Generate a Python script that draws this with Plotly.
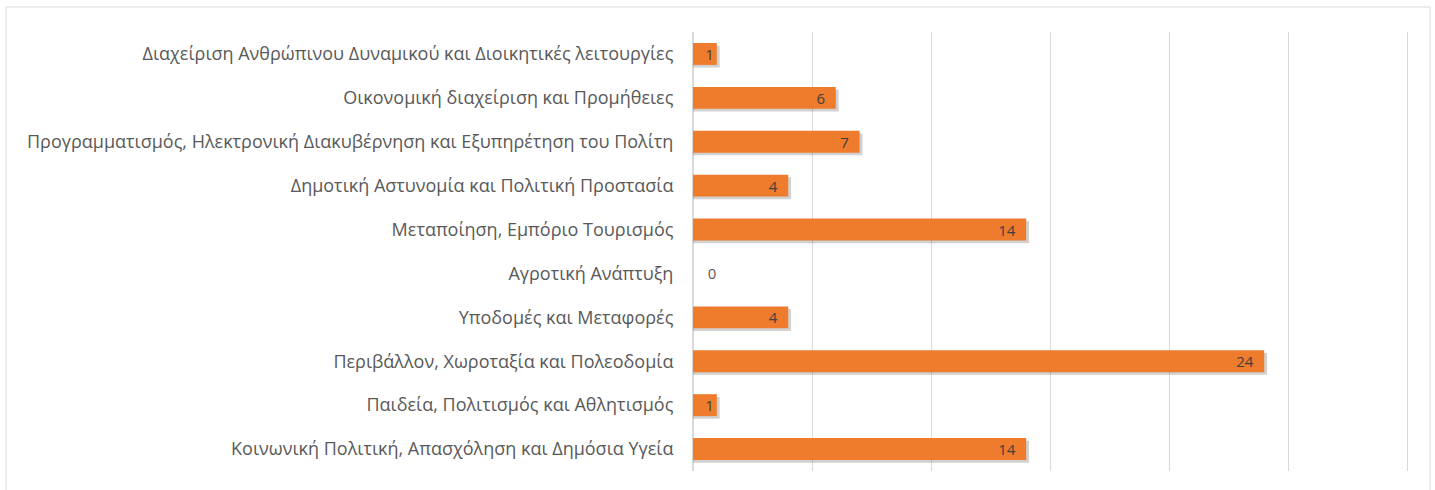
import plotly.graph_objects as go

# Categories listed top to bottom
categories = [
    "Διαχείριση Ανθρώπινου Δυναμικού και Διοικητικές λειτουργίες",
    "Οικονομική διαχείριση και Προμήθειες",
    "Προγραμματισμός, Ηλεκτρονική Διακυβέρνηση και Εξυπηρέτηση του Πολίτη",
    "Δημοτική Αστυνομία και Πολιτική Προστασία",
    "Μεταποίηση, Εμπόριο Τουρισμός",
    "Αγροτική Ανάπτυξη",
    "Υποδομές και Μεταφορές",
    "Περιβάλλον, Χωροταξία και Πολεοδομία",
    "Παιδεία, Πολιτισμός και Αθλητισμός",
    "Κοινωνική Πολιτική, Απασχόληση και Δημόσια Υγεία",
]
values = [1, 6, 7, 4, 14, 0, 4, 24, 1, 14]

x_max = 30
bar_width = 0.5
shadow_dx = 0.12  # horizontal spill of the drop shadow, in axis units

label_font = "Open Sans, sans-serif"


def bar_label(v):
    # pad labels away from the bar end / axis line
    if v == 0:
        return "   0"
    if v == 1:
        return "1"
    return f"{v}  "


fig = go.Figure()

# soft drop shadow behind each bar
fig.add_trace(go.Bar(
    y=categories,
    x=[v + shadow_dx if v > 0 else 0 for v in values],
    orientation="h",
    width=bar_width,
    offset=-bar_width / 2 + 0.06,
    marker=dict(color="rgba(90,90,90,0.28)", line=dict(width=0)),
    hoverinfo="skip",
    showlegend=False,
))

# main bars
fig.add_trace(go.Bar(
    y=categories,
    x=values,
    orientation="h",
    width=bar_width,
    offset=-bar_width / 2,
    marker=dict(color="#EF7B2C", line=dict(width=0)),
    text=[bar_label(v) for v in values],
    textposition=["inside" if v > 0 else "outside" for v in values],
    insidetextanchor="end",
    textangle=0,
    constraintext="none",
    textfont=dict(family=label_font, size=15, color="#404040"),
    outsidetextfont=dict(family=label_font, size=15, color="#595959"),
    cliponaxis=False,
    showlegend=False,
))

fig.update_layout(
    width=1435,
    height=490,
    barmode="overlay",
    paper_bgcolor="white",
    plot_bgcolor="white",
    margin=dict(l=693, r=28, t=32, b=19),
    font=dict(family=label_font, size=18, color="#595959"),
    xaxis=dict(
        range=[0, x_max],
        dtick=5,
        showticklabels=False,
        showgrid=True,
        gridcolor="#D9D9D9",
        gridwidth=1,
        zeroline=True,
        zerolinecolor="#D9D9D9",
        zerolinewidth=1,
        fixedrange=True,
    ),
    yaxis=dict(
        autorange="reversed",
        showgrid=False,
        ticks="",
        showline=True,
        mirror=True,
        linecolor="#D9D9D9",
        linewidth=1,
        ticklabelstandoff=15,
        tickfont=dict(family=label_font, size=18, color="#595959"),
        fixedrange=True,
    ),
    shapes=[
        # outer chart frame
        dict(
            type="rect", xref="paper", yref="paper",
            x0=(6 - 693) / 714, x1=(1430 - 693) / 714,
            y0=(471 - 495) / 439, y1=(471 - 7) / 439,
            line=dict(color="#D9D9D9", width=1),
            fillcolor="rgba(0,0,0,0)",
            layer="below",
        )
    ],
)

fig.write_html("out.html")
